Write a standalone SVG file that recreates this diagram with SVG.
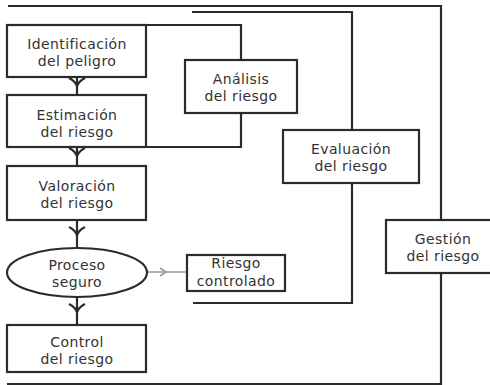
<svg xmlns="http://www.w3.org/2000/svg" width="490" height="385" viewBox="0 0 490 385">
<defs>
<style>
.box{fill:#fff;stroke:#2b2b2b;stroke-width:2.2}
.ln{fill:none;stroke:#2b2b2b;stroke-width:2.2}
.t{font-family:"DejaVu Sans",sans-serif;font-size:14px;letter-spacing:0.4px;fill:#333;text-anchor:middle}
.g{fill:none;stroke:#9a9a9a;stroke-width:1.6}
</style>
<marker id="ah" markerUnits="userSpaceOnUse" orient="auto" markerWidth="20" markerHeight="20" refX="0" refY="0" viewBox="-10 -10 20 20" overflow="visible">
<path d="M-7,-8 Q-4,-2 1,0 Q-4,2 -7,8" fill="none" stroke="#2b2b2b" stroke-width="2.2"/>
</marker>
<marker id="gah" markerUnits="userSpaceOnUse" orient="auto" markerWidth="20" markerHeight="20" refX="0" refY="0" viewBox="-10 -10 20 20" overflow="visible">
<path d="M-5,-4 L1,0 L-5,4" fill="none" stroke="#9a9a9a" stroke-width="1.6"/>
</marker>
</defs>
<g id="connectors">
<path class="ln" d="M8,6 H441 V384 H7"/>
<path class="ln" d="M192,12 H352 V303 H193"/>
<path class="ln" d="M146,25 H241 V147 H146"/>
<path class="ln" d="M77,77 V85 V95" marker-mid="url(#ah)"/>
<path class="ln" d="M77,147 V155 V166" marker-mid="url(#ah)"/>
<path class="ln" d="M77,220 V234 V248" marker-mid="url(#ah)"/>
<path class="ln" d="M77,297 V311 V325" marker-mid="url(#ah)"/>
<path class="g" d="M147,272 H165 H187" marker-mid="url(#gah)"/>
</g>
<g id="identificacion">
<rect class="box" x="7" y="25" width="139" height="52"/>
<text class="t" x="77" y="49">Identificación</text>
<text class="t" x="77" y="66">del peligro</text>
</g>
<g id="estimacion">
<rect class="box" x="7" y="95" width="139" height="52"/>
<text class="t" x="77" y="120">Estimación</text>
<text class="t" x="77" y="137">del riesgo</text>
</g>
<g id="valoracion">
<rect class="box" x="7" y="166" width="139" height="54"/>
<text class="t" x="77" y="191">Valoración</text>
<text class="t" x="77" y="208">del riesgo</text>
</g>
<g id="proceso">
<ellipse class="box" cx="77" cy="272.5" rx="70" ry="24.5"/>
<text class="t" x="77" y="270">Proceso</text>
<text class="t" x="77" y="287">seguro</text>
</g>
<g id="control">
<rect class="box" x="7" y="325" width="139" height="47"/>
<text class="t" x="77" y="347">Control</text>
<text class="t" x="77" y="364">del riesgo</text>
</g>
<g id="analisis">
<rect class="box" x="185" y="60" width="112" height="53"/>
<text class="t" x="241" y="84">Análisis</text>
<text class="t" x="241" y="101">del riesgo</text>
</g>
<g id="evaluacion">
<rect class="box" x="283" y="130" width="136" height="53"/>
<text class="t" x="351" y="154">Evaluación</text>
<text class="t" x="351" y="171">del riesgo</text>
</g>
<g id="riesgo-controlado">
<rect class="box" x="187" y="255" width="98" height="36"/>
<text class="t" x="236" y="268">Riesgo</text>
<text class="t" x="236" y="286">controlado</text>
</g>
<g id="gestion">
<rect class="box" x="386" y="220" width="115" height="53"/>
<text class="t" x="443" y="244">Gestión</text>
<text class="t" x="443" y="261">del riesgo</text>
</g>
</svg>
